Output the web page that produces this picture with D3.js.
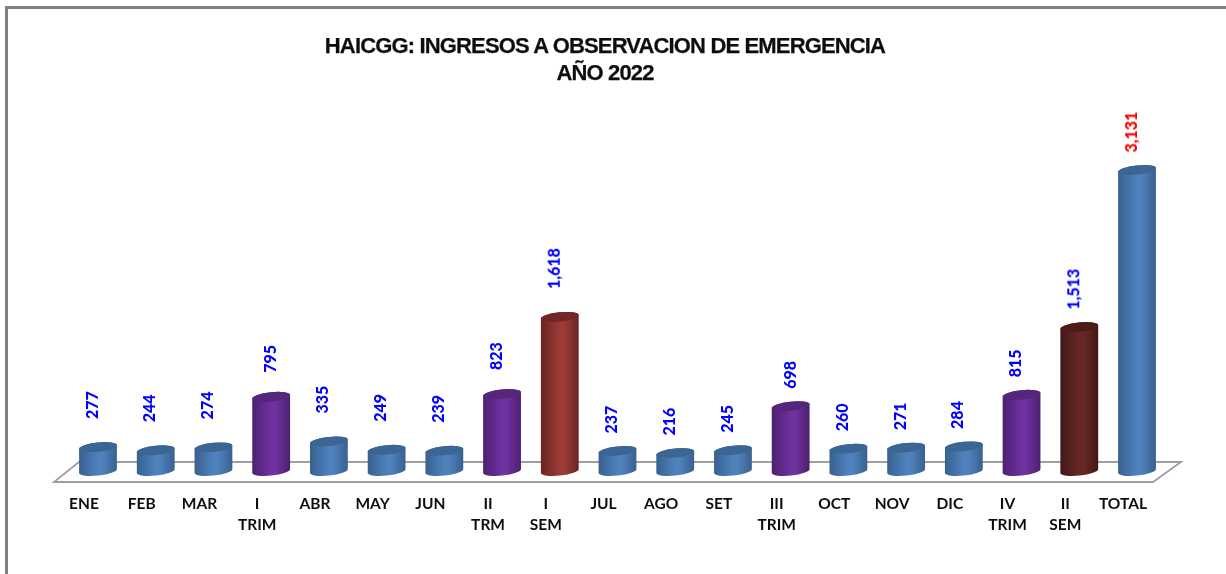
<!DOCTYPE html>
<html>
<head>
<meta charset="utf-8">
<script src="https://cdn.jsdelivr.net/npm/d3@7/dist/d3.min.js"></script>
<style>html,body{margin:0;padding:0;background:#fff}svg{display:block}</style>
</head>
<body>
<div id="chart"></div>
<script>
const categories = ["ENE","FEB","MAR","I|TRIM","ABR","MAY","JUN","II|TRM","I|SEM","JUL","AGO","SET","III|TRIM","OCT","NOV","DIC","IV|TRIM","II|SEM","TOTAL"];
const values = [277,244,274,795,335,249,239,823,1618,237,216,245,698,260,271,284,815,1513,3131];
const kinds = ["m","m","m","q","m","m","m","q","s","m","m","m","q","m","m","m","q","h","m"];
const titleLines = ["HAICGG: INGRESOS A OBSERVACION DE EMERGENCIA","AÑO 2022"];
const palette = {
  m:{edge:"#38618f",mid:"#4f81bd",top:"#3a6593"},
  q:{edge:"#4b2270",mid:"#7030a0",top:"#55277c"},
  s:{edge:"#692523",mid:"#9d3a37",top:"#722826"},
  h:{edge:"#421817",mid:"#672825",top:"#4b1b19"}
};
const W=1226,H=574;
const svg=d3.select("#chart").append("svg").attr("width",W).attr("height",H);
const x=d3.scalePoint().domain(d3.range(categories.length)).range([98,1137]);
const y=d3.scaleLinear().domain([0,3131]).range([474,170]);
const defs=svg.append("defs");
Object.entries(palette).forEach(([k,c])=>{
  const g=defs.append("linearGradient").attr("id","g"+k).attr("x1",0).attr("x2",1).attr("y1",0).attr("y2",0);
  [[0,c.edge],[0.5,c.mid],[0.62,c.mid],[1,c.edge]].forEach(s=>g.append("stop").attr("offset",s[0]).attr("stop-color",s[1]));
});
const blur=defs.append("filter").attr("id","soft").attr("x","-5%").attr("y","-5%").attr("width","110%").attr("height","110%");
blur.append("feGaussianBlur").attr("stdDeviation",0.35);

// frame
svg.append("path").attr("d",`M6.5,574V7.5H1226`).attr("fill","none").attr("stroke","#808080").attr("stroke-width",3);

// floor
svg.append("path").attr("d","M54,482H1153L1181,462H79Z").attr("fill","#fff").attr("stroke","#9f9f9f").attr("stroke-width",1.8);

// title
const title=svg.append("text").attr("text-anchor","middle").attr("filter","url(#soft)").attr("font-family","'Liberation Sans',Arial,sans-serif").attr("font-weight","bold").attr("font-size",22).attr("letter-spacing",-0.85).attr("fill","#111").attr("stroke","#111").attr("stroke-width",0.25);
titleLines.forEach((t,i)=>title.append("tspan").attr("x",605).attr("y",53+i*27).text(t));

// cylinders
const rx=19,ry=4.6,tilt=-6,dy=rx*Math.sin(-tilt*Math.PI/180),dx=rx*Math.cos(tilt*Math.PI/180);
const baseY=y(0)-3;
const bars=svg.append("g").attr("filter","url(#soft)").selectAll("g").data(values).join("g");
bars.append("path")
  .attr("d",(d,i)=>{const c=x(i),t=y(d),b=baseY;
    return `M${c-dx},${t+dy}L${c-dx},${b+dy}A${rx},${ry} ${tilt} 0 0 ${c+dx},${b-dy}L${c+dx},${t-dy}A${rx},${ry} ${tilt} 0 0 ${c-dx},${t+dy}Z`;})
  .attr("fill",(d,i)=>`url(#g${kinds[i]})`);
bars.append("ellipse")
  .attr("rx",rx).attr("ry",ry)
  .attr("transform",(d,i)=>`translate(${x(i)},${y(d)}) rotate(${tilt})`)
  .attr("fill",(d,i)=>palette[kinds[i]].top);

// value labels: first half sits higher above its bar than the second half
const labelGap=(d,i)=> i<9 ? (kinds[i]==="q"?24:28) : 17.5;
const labelShift=(d,i)=> (categories[i]==="I|TRIM"||categories[i]==="III|TRIM") ? -0.5 : -6;
svg.append("g").attr("filter","url(#soft)").selectAll("text").data(values).join("text")
  .attr("transform",(d,i)=>`translate(${x(i)+labelShift(d,i)},${y(d)-labelGap(d,i)}) rotate(-90)`)
  .attr("dy","0.35em")
  .attr("font-family","Lato,'Open Sans',sans-serif").attr("font-weight","900").attr("font-size",16)
  .attr("fill",d=>d>3000?"#ff0000":"#0000ff")
  .text(d=>d3.format(",")(d));

// category labels
const cat=svg.append("g").attr("filter","url(#soft)").selectAll("text").data(categories).join("text")
  .attr("text-anchor","middle").attr("font-family","Lato,'Open Sans',sans-serif").attr("font-weight","bold").attr("font-size",15.5).attr("fill","#111");
cat.each(function(c,i){
  c.split("|").forEach((l,j)=>d3.select(this).append("tspan").attr("x",x(i)-14).attr("y",509+j*21).text(l));
});
</script>
</body>
</html>
